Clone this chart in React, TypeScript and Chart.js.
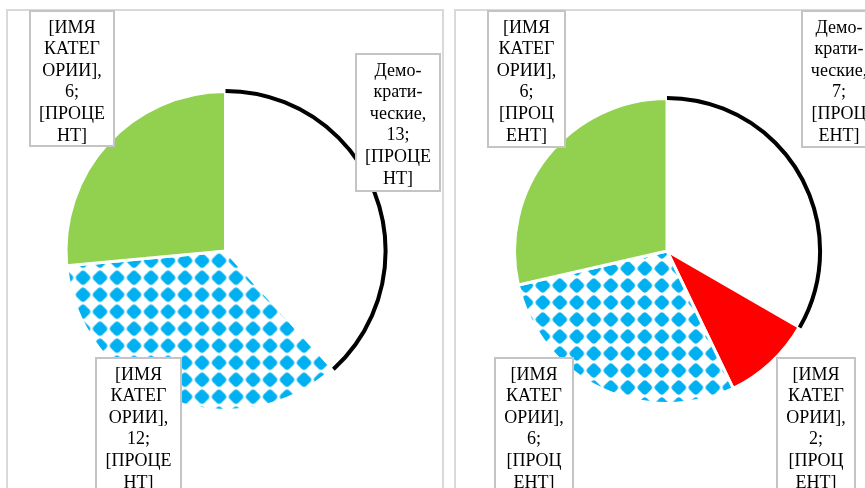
import React, { useEffect, useRef } from "react";
import { Chart, registerables } from "chart.js";

Chart.register(...registerables);

// ---------- data ----------
const leftCategories = ["Демократические", "[ИМЯ КАТЕГОРИИ]", "[ИМЯ КАТЕГОРИИ]"];
const leftValues = [13, 12, 9];
const leftLabelNumbers = ["13", "12", "6"];

const rightCategories = ["Демократические", "[ИМЯ КАТЕГОРИИ]", "[ИМЯ КАТЕГОРИИ]", "[ИМЯ КАТЕГОРИИ]"];
const rightValues = [7, 2, 6, 6];
const rightLabelNumbers = ["7", "2", "6", "6"];

const demWrap = ["Демо-", "крати-", "ческие,"];
const catWrap = ["[ИМЯ", "КАТЕГ", "ОРИИ],"];
const pctWide = ["[ПРОЦЕ", "НТ]"];
const pctNarrow = ["[ПРОЦ", "ЕНТ]"];

// ---------- styling ----------
type Box = { x: number; y: number; w: number; h: number };

const FONT = '18px "Liberation Serif", "Times New Roman", serif';
const LINE_H = 21.6;

function makePattern(dx: number, dy: number): CanvasPattern | string {
  const c = document.createElement("canvas");
  c.width = 17;
  c.height = 17;
  const g = c.getContext("2d");
  if (!g) return "#00B0F0";
  g.fillStyle = "#ffffff";
  g.fillRect(0, 0, 17, 17);
  g.fillStyle = "#00B0F0";
  const cx = 8.5, cy = 8.5, d = 8.4;
  g.save();
  g.beginPath();
  g.arc(cx, cy, 7.2, 0, Math.PI * 2);
  g.clip();
  g.beginPath();
  g.moveTo(cx, cy - d);
  g.lineTo(cx + d, cy);
  g.lineTo(cx, cy + d);
  g.lineTo(cx - d, cy);
  g.closePath();
  g.fill();
  g.restore();
  const p = g.createPattern(c, "repeat");
  if (!p) return "#00B0F0";
  try {
    p.setTransform(new DOMMatrix().translate(dx, dy));
  } catch (e) {}
  return p;
}

function labelLines(category: string, num: string, pct: string[]): string[] {
  const name = category.startsWith("Демо") ? demWrap : catWrap;
  return [...name, num + ";", ...pct];
}

type PieProps = {
  canvasLeft: number;
  width: number;
  categories: string[];
  values: number[];
  labelNumbers: string[];
  colorKeys: string[];
  pctWrap: string[];
  boxes: Box[];
  center: [number, number];
  radius: number;
  frameX: number;
  patternShift: [number, number];
};

function PieChart(p: PieProps) {
  const ref = useRef<HTMLCanvasElement | null>(null);
  useEffect(() => {
    const canvas = ref.current;
    if (!canvas) return;
    const H = 488;
    const cx = p.center[0] - p.canvasLeft;
    const cy = p.center[1];
    const R2 = p.radius + 10;
    const pattern = makePattern(p.patternShift[0], p.patternShift[1]);
    const colors = p.colorKeys.map((k) => (k === "pattern" ? pattern : k));

    const decor = {
      id: "decor",
      beforeDraw(chart: any) {
        const ctx = chart.ctx;
        ctx.save();
        ctx.fillStyle = "#ffffff";
        ctx.fillRect(0, 0, chart.width, chart.height);
        ctx.strokeStyle = "#d9d9d9";
        ctx.lineWidth = 2;
        ctx.strokeRect(p.frameX - p.canvasLeft, 10, 436, 600);
        ctx.restore();
      },
      afterDatasetsDraw(chart: any) {
        const ctx = chart.ctx;
        const meta = chart.getDatasetMeta(0);
        const arc = meta.data[0];
        const a = arc.getProps(["x", "y", "startAngle", "endAngle", "outerRadius"], true);
        ctx.save();
        ctx.beginPath();
        ctx.arc(a.x, a.y, a.outerRadius + 0.6, a.startAngle, a.endAngle);
        ctx.lineWidth = 4;
        ctx.strokeStyle = "#000000";
        ctx.lineCap = "butt";
        ctx.stroke();
        ctx.restore();

        ctx.save();
        ctx.font = FONT;
        ctx.textAlign = "center";
        ctx.textBaseline = "alphabetic";
        p.values.forEach((_, i) => {
          const b = p.boxes[i];
          const bx = b.x - p.canvasLeft;
          ctx.fillStyle = "#ffffff";
          ctx.fillRect(bx, b.y, b.w, b.h);
          ctx.strokeStyle = "#c4c4c4";
          ctx.lineWidth = 2;
          ctx.strokeRect(bx, b.y, b.w, b.h);
          ctx.fillStyle = "#000000";
          const lines = labelLines(p.categories[i], p.labelNumbers[i], p.pctWrap);
          lines.forEach((ln, j) => {
            ctx.fillText(ln, bx + b.w / 2, b.y + 21.5 + j * LINE_H);
          });
        });
        ctx.restore();
      },
    };

    const chart = new Chart(canvas, {
      type: "pie",
      data: {
        labels: p.categories,
        datasets: [
          {
            data: p.values,
            backgroundColor: colors as any,
            borderColor: "#ffffff",
            borderWidth: 3,
          },
        ],
      },
      options: {
        responsive: false,
        animation: false,
        radius: p.radius,
        layout: {
          padding: {
            left: cx - R2,
            top: cy - R2,
            right: p.width - cx - R2,
            bottom: H - cy - R2,
          },
        },
        plugins: {
          legend: { display: false },
          tooltip: { enabled: false },
          title: { display: false },
        },
      } as any,
      plugins: [decor],
    });
    return () => chart.destroy();
  }, []);
  return (
    <canvas
      ref={ref}
      width={p.width}
      height={488}
      style={{ position: "absolute", left: p.canvasLeft, top: 0, width: p.width, height: 488 }}
    />
  );
}

export default function App() {
  return (
    <div
      style={{
        position: "absolute",
        left: 0,
        top: 0,
        width: 865,
        height: 488,
        overflow: "hidden",
        background: "#ffffff",
      }}
    >
      <PieChart
        canvasLeft={0}
        width={449}
        categories={leftCategories}
        values={leftValues}
        labelNumbers={leftLabelNumbers}
        colorKeys={["#FFFFFF", "pattern", "#92D050"]}
        pctWrap={pctWide}
        boxes={[
          { x: 356, y: 54, w: 84, h: 137 },
          { x: 96, y: 358, w: 85, h: 140 },
          { x: 30, y: 11, w: 84, h: 135 },
        ]}
        center={[225.5, 251]}
        radius={159.5}
        frameX={7}
        patternShift={[6.5, -2.8]}
      />
      <PieChart
        canvasLeft={449}
        width={416}
        categories={rightCategories}
        values={rightValues}
        labelNumbers={rightLabelNumbers}
        colorKeys={["#FFFFFF", "#FF0000", "pattern", "#92D050"]}
        pctWrap={pctNarrow}
        boxes={[
          { x: 802, y: 11, w: 74, h: 136 },
          { x: 777, y: 358, w: 78, h: 140 },
          { x: 495, y: 358, w: 78, h: 140 },
          { x: 488, y: 11, w: 77, h: 136 },
        ]}
        center={[667, 251]}
        radius={152.5}
        frameX={455}
        patternShift={[0.3, 5]}
      />
    </div>
  );
}
